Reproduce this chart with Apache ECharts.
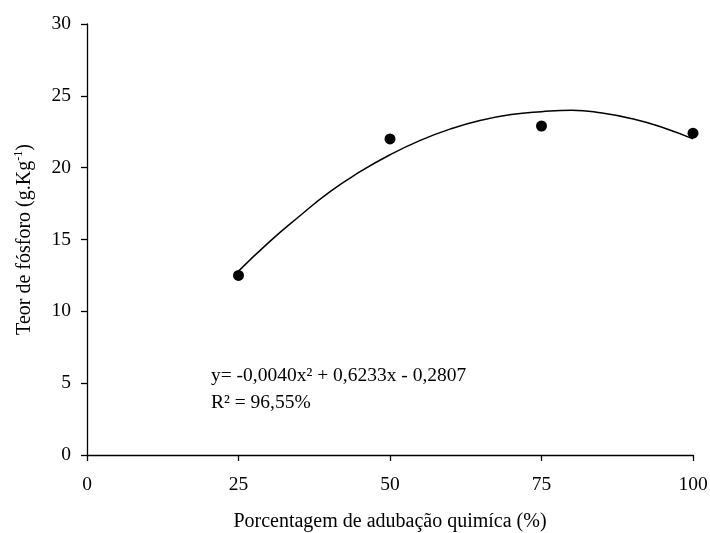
<!DOCTYPE html>
<html>
<head>
<meta charset="utf-8">
<script src="https://cdn.jsdelivr.net/npm/echarts@6/dist/echarts.min.js"></script>
<style>html,body{margin:0;padding:0;background:#fff}#c{width:710px;height:533px}</style>
</head>
<body>
<div id="c"></div>
<script>
// Observed data
const obsX = [25, 50, 75, 100];
const obsY = [12.5, 22.0, 22.9, 22.4];
// Fitted curve
const fitX = [25, 30, 35, 40, 45, 50, 55, 60, 65, 70, 75, 80, 85, 90, 95, 100];
const fitY = [12.8, 14.8, 16.6, 18.3, 19.7, 20.9, 21.9, 22.7, 23.3, 23.7, 23.9, 24.0, 23.8, 23.4, 22.8, 22.0];
const xTicks = [0, 25, 50, 75, 100];
const yTicks = [0, 5, 10, 15, 20, 25, 30];
const eqLine1 = 'y= -0,0040x² + 0,6233x - 0,2807';
const eqLine2 = 'R² = 96,55%';
const xTitle = 'Porcentagem de adubação quimíca (%)';

const font = 'Liberation Serif';
const fs = 19.5;
const chart = echarts.init(document.getElementById('c'), null, {renderer: 'canvas'});
chart.setOption({
  animation: false,
  backgroundColor: '#fff',
  grid: {left: 87, right: 17, top: 24, bottom: 78, containLabel: false, outerBoundsMode: 'none'},
  xAxis: {
    type: 'value', min: xTicks[0], max: xTicks[xTicks.length - 1], interval: 25,
    splitLine: {show: false},
    axisLine: {lineStyle: {color: '#000', width: 1.3}},
    axisTick: {length: 6, lineStyle: {color: '#000', width: 1.3}},
    axisLabel: {color: '#000', fontFamily: font, fontSize: fs, margin: 20},
    name: xTitle, nameLocation: 'middle', nameGap: 57,
    nameTextStyle: {color: '#000', fontFamily: font, fontSize: 20}
  },
  yAxis: {
    type: 'value', min: yTicks[0], max: yTicks[yTicks.length - 1], interval: 5,
    splitLine: {show: false},
    axisLine: {show: true, lineStyle: {color: '#000', width: 1.3}},
    axisTick: {show: true, length: 6, lineStyle: {color: '#000', width: 1.3}},
    axisLabel: {color: '#000', fontFamily: font, fontSize: fs, margin: 16},
    name: '{a|Teor de fósforo (g.Kg}{s|-1}{a|)}', nameLocation: 'middle', nameGap: 51, nameRotate: 90,
    nameTextStyle: {
      color: '#000', fontFamily: font, fontSize: 20,
      rich: {
        a: {color: '#000', fontFamily: font, fontSize: 20},
        s: {color: '#000', fontFamily: font, fontSize: 12, padding: [0, 0, 11, 0]}
      }
    }
  },
  graphic: [
    {type: 'text', left: 211, top: 366, style: {text: eqLine1, fill: '#000', font: fs + 'px "Liberation Serif"'}},
    {type: 'text', left: 211, top: 393, style: {text: eqLine2, fill: '#000', font: fs + 'px "Liberation Serif"'}}
  ],
  series: [
    {
      type: 'line', data: fitX.map((x, i) => [x, fitY[i]]), smooth: true,
      showSymbol: false, lineStyle: {color: '#000', width: 1.5}, z: 2
    },
    {
      type: 'scatter', data: obsX.map((x, i) => [x, obsY[i]]),
      symbol: 'circle', symbolSize: 11, itemStyle: {color: '#000', opacity: 1}, z: 3
    }
  ]
});
</script>
</body>
</html>
